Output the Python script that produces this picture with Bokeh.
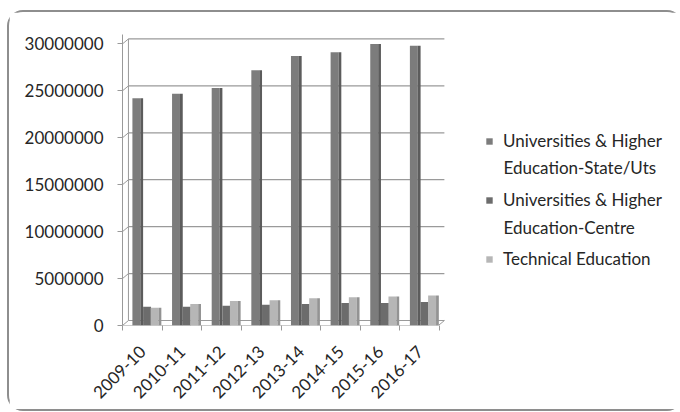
from math import pi

from bokeh.embed import file_html
from bokeh.models import (ColumnDataSource, FixedTicker, Legend, LegendItem,
                          BasicTickFormatter, Label)
from bokeh.plotting import figure
from bokeh.resources import INLINE
from bokeh.transform import dodge

# Education expenditure by year (in rupees)
years = ["2009-10", "2010-11", "2011-12", "2012-13",
         "2013-14", "2014-15", "2015-16", "2016-17"]
state_uts = [24200000, 24700000, 25300000, 27200000,
             28700000, 29100000, 30000000, 29800000]
centre = [2000000, 2000000, 2100000, 2200000,
          2300000, 2400000, 2400000, 2500000]
technical = [1900000, 2300000, 2600000, 2700000,
             2900000, 3000000, 3100000, 3200000]
series_names = ["Universities & Higher\nEducation-State/Uts",
                "Universities & Higher\nEducation-Centre",
                "Technical Education"]
y_ticks = [0, 5000000, 10000000, 15000000, 20000000, 25000000, 30000000]

FONT = "Lato"
TEXT = "#262626"
WALL = "#9a9a9a"

idx = list(range(len(years)))
src = ColumnDataSource(dict(x=idx, state=state_uts, centre=centre, tech=technical))

# the frame runs on to the right so the legend can sit inside it
p = figure(width=676, height=401, x_range=(-0.5, 13.4), y_range=(0, 31000000),
           output_backend="svg", toolbar_location=None,
           min_border_left=113, min_border_right=12,
           min_border_top=22, min_border_bottom=88,
           outline_line_color=None, background_fill_color="white",
           border_fill_color="white", margin=(10, 0, 0, 7),
           styles={"border": "2px solid #8e8e8e", "border-radius": "16px"})
p.grid.visible = False

# depth offset of the back wall (a few pixels up and to the right)
dx = 0.15
dy = 530000
x_end = 7.62

# back-wall gridlines plus their short connectors on the left wall
p.segment(x0=[-0.5 + dx] * len(y_ticks), y0=[t + dy for t in y_ticks],
          x1=[x_end] * len(y_ticks), y1=[t + dy for t in y_ticks],
          line_color=WALL, line_width=1.2)
p.segment(x0=[-0.5] * len(y_ticks), y0=y_ticks,
          x1=[-0.5 + dx] * len(y_ticks), y1=[t + dy for t in y_ticks],
          line_color=WALL, line_width=1)
p.segment(x0=[-0.5 + dx], y0=[dy], x1=[-0.5 + dx], y1=[y_ticks[-1] + dy],
          line_color=WALL, line_width=1)
# floor front edge and right corner
p.segment(x0=[-0.5], y0=[0], x1=[x_end - dx], y1=[0], line_color=WALL, line_width=1.2)
p.segment(x0=[x_end - dx], y0=[0], x1=[x_end], y1=[dy], line_color=WALL, line_width=1)

# bars: front faces with darker side faces
r_state = p.vbar(x=dodge("x", -0.15, range=p.x_range), top="state", width=0.2,
                 source=src, fill_color="#7c7c7c", line_color=None)
p.vbar(x=dodge("x", -0.015, range=p.x_range), top="state", width=0.07,
       source=src, fill_color="#5c5c5c", line_color=None)
r_centre = p.vbar(x=dodge("x", 0.12, range=p.x_range), top="centre", width=0.2,
                  source=src, fill_color="#6c6c6c", line_color=None)
r_tech = p.vbar(x=dodge("x", 0.31, range=p.x_range), top="tech", width=0.2,
                source=src, fill_color="#b6b6b6", line_color=None)
p.vbar(x=dodge("x", 0.445, range=p.x_range), top="tech", width=0.07,
       source=src, fill_color="#939393", line_color=None)

# y axis
yax = p.yaxis[0]
yax.ticker = FixedTicker(ticks=y_ticks)
yax.formatter = BasicTickFormatter(use_scientific=False)
yax.axis_line_color = WALL
yax.major_tick_line_color = WALL
yax.major_tick_out = 5
yax.major_tick_in = 0
yax.minor_tick_line_color = None
yax.major_label_standoff = 14
yax.major_label_text_font = FONT
yax.major_label_text_font_size = "17px"
yax.major_label_text_color = TEXT

# x axis: labels at category centres, ticks at category boundaries
xax = p.xaxis[0]
xax.ticker = FixedTicker(ticks=idx, minor_ticks=[i - 0.5 for i in range(len(years) + 1)])
xax.major_label_overrides = {i: y for i, y in enumerate(years)}
xax.axis_line_color = None
xax.major_tick_line_color = None
xax.minor_tick_line_color = WALL
xax.minor_tick_out = 5
xax.minor_tick_in = 0
xax.major_label_orientation = pi / 4
xax.major_label_standoff = 17
xax.major_label_text_font = FONT
xax.major_label_text_font_size = "17px"
xax.major_label_text_color = TEXT

# legend: key square beside the first line of each name, the rest wraps below
first_lines = [n.split("\n")[0] for n in series_names]
legend = Legend(items=[LegendItem(label=first_lines[0], renderers=[r_state]),
                       LegendItem(label=first_lines[1], renderers=[r_centre]),
                       LegendItem(label=first_lines[2], renderers=[r_tech])],
                location=(363, 56), padding=0, margin=0, spacing=38,
                glyph_width=8, glyph_height=8, label_standoff=10,
                border_line_color=None, background_fill_alpha=0,
                label_text_font=FONT, label_text_font_size="17px",
                label_text_color=TEXT)
p.add_layout(legend)

wrap_y = [158, 98]
for name, sy in zip(series_names, wrap_y):
    p.add_layout(Label(x=381, y=sy, x_units="screen", y_units="screen",
                       text=name.split("\n")[1], text_baseline="middle",
                       text_font=FONT, text_font_size="17px", text_color=TEXT))

open("out.html", "w").write(file_html(p, INLINE))
